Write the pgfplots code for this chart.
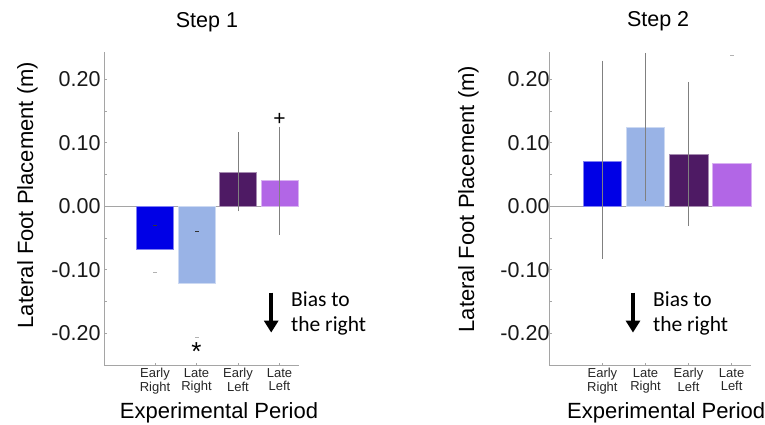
\documentclass[border=0pt]{standalone}
\usepackage{fontspec}
\setmainfont{Liberation Sans}
\newfontfamily\calibri{Carlito}
\usepackage{pgfplots}
\pgfplotsset{compat=1.18}
\usetikzlibrary{arrows.meta}

\definecolor{er}{RGB}{0,0,230}
\definecolor{lr}{RGB}{153,179,230}
\definecolor{el}{RGB}{78,26,100}
\definecolor{ll}{RGB}{178,102,230}
\definecolor{axgray}{RGB}{165,165,165}

\pgfplotsset{
 stepaxis/.style={
  scale only axis, height=313pt, ymin=-0.25, ymax=0.2426,
  axis x line=bottom, axis y line=left,
  axis line style={axgray, line width=0.8pt, -},
  ytick={-0.2,-0.1,0,0.1,0.2}, yticklabels={-0.20,-0.10,0.00,0.10,0.20},
  minor ytick={-0.15,-0.05,0.05,0.15},
  tick align=inside, major tick length=2.5pt, minor tick length=2.5pt,
  tick style={axgray, line width=0.6pt},
  yticklabel style={font=\fontsize{21.5}{21.5}\selectfont, text=black!90},
  xtick={0,1,2,3},
  xticklabels={{Early\\Right},{Late\\Right},{Early\\Left},{Late\\Left}},
  xticklabel style={align=center, font=\fontsize{13}{13.5}\selectfont, text=black!85},
  extra y ticks={0}, extra y tick labels={},
  extra y tick style={grid=major, major grid style={axgray, line width=0.8pt}, major tick length=0pt},
  clip=false,
  ylabel={Lateral Foot Placement (m)},
  xlabel={Experimental Period},
  label style={font=\fontsize{22}{22}\selectfont},
  title style={font=\fontsize{21.5}{21.5}\selectfont},
 },
 errb/.style={error bars/.cd, y dir=both, y explicit,
  error bar style={gray, line width=0.7pt},
  error mark options={gray, mark size=2pt, line width=0.7pt}},
}

\begin{document}
\begin{tikzpicture}
\useasboundingbox (0,0) rectangle (765pt,424pt);
% Step 1
\begin{axis}[stepaxis, at={(104pt,59pt)}, anchor=south west,
  width=195pt, xmin=-1.23, xmax=3.47,
  title={Step 1}, title style={at={(axis description cs:0.528,1.058)}, anchor=base},
  xlabel style={at={(axis description cs:0.59,-0.172)}, anchor=base},
  ylabel style={at={(axis description cs:-0.364,0.543)}, anchor=base},
]
\addplot[ybar, bar shift=0pt, bar width=37pt, fill=er, draw=er!50!white, line width=0.6pt] coordinates {(0,-0.068)};
\addplot[ybar, bar shift=0pt, bar width=37pt, fill=lr, draw=lr!50!white, line width=0.6pt] coordinates {(1,-0.121)};
\addplot[ybar, bar shift=0pt, bar width=37pt, fill=el, draw=el!50!white, line width=0.6pt, errb] coordinates {(2,0.054) +- (0,0.059)};
\addplot[ybar, bar shift=0pt, bar width=37pt, fill=ll, draw=ll!50!white, line width=0.6pt, errb] coordinates {(3,0.040) +- (0,0.082)};
\addplot[only marks, mark=-, mark size=2pt, mark options={black!80, line width=0.8pt}] coordinates {(0,-0.031) (1,-0.039)};
\addplot[only marks, mark=-, mark size=2pt, mark options={black!30, line width=0.8pt}] coordinates {(0,-0.105) (1,-0.207)};
\node[anchor=base, font=\fontsize{26}{26}\selectfont] at (axis cs:1,-0.243) {*};
\node[anchor=base, font=\fontsize{21}{21}\selectfont] at (axis cs:3,0.127) {+};
\draw[-{Triangle[width=14pt,length=12pt]}, line width=4pt] (axis cs:2.8,-0.136) -- (axis cs:2.8,-0.199);
\node[anchor=base west, inner sep=0pt, font=\calibri\fontsize{21.5}{21.5}\selectfont] at (axis cs:3.277,-0.158) {Bias to};
\node[anchor=base west, inner sep=0pt, font=\calibri\fontsize{21.5}{21.5}\selectfont] at (axis cs:3.277,-0.198) {the right};
\end{axis}
% Step 2
\begin{axis}[stepaxis, at={(549pt,59pt)}, anchor=south west,
  width=202pt, xmin=-1.24, xmax=3.45,
  yticklabel style={xshift=4pt},
  title={Step 2}, title style={at={(axis description cs:0.54,1.062)}, anchor=base},
  xlabel style={at={(axis description cs:0.58,-0.172)}, anchor=base},
  ylabel style={at={(axis description cs:-0.371,0.53)}, anchor=base},
]
\addplot[ybar, bar shift=0pt, bar width=38.5pt, fill=er, draw=er!50!white, line width=0.6pt, errb] coordinates {(0,0.0707) += (0,0.155) -= (0,0.150)};
\addplot[ybar, bar shift=0pt, bar width=38.5pt, fill=lr, draw=lr!50!white, line width=0.6pt, errb] coordinates {(1,0.124) += (0,0.114) -= (0,0.113)};
\addplot[ybar, bar shift=0pt, bar width=38.5pt, fill=el, draw=el!50!white, line width=0.6pt, errb] coordinates {(2,0.0816) += (0,0.111) -= (0,0.110)};
\addplot[ybar, bar shift=0pt, bar width=38.5pt, fill=ll, draw=ll!50!white, line width=0.6pt] coordinates {(3,0.0675)};
\addplot[only marks, mark=-, mark size=2pt, mark options={black!30, line width=0.8pt}] coordinates {(3,0.238)};
\draw[-{Triangle[width=14pt,length=12pt]}, line width=4pt] (axis cs:0.71,-0.136) -- (axis cs:0.71,-0.199);
\node[anchor=base west, inner sep=0pt, font=\calibri\fontsize{21.5}{21.5}\selectfont] at (axis cs:1.174,-0.158) {Bias to};
\node[anchor=base west, inner sep=0pt, font=\calibri\fontsize{21.5}{21.5}\selectfont] at (axis cs:1.174,-0.198) {the right};
\end{axis}
\end{tikzpicture}
\end{document}
